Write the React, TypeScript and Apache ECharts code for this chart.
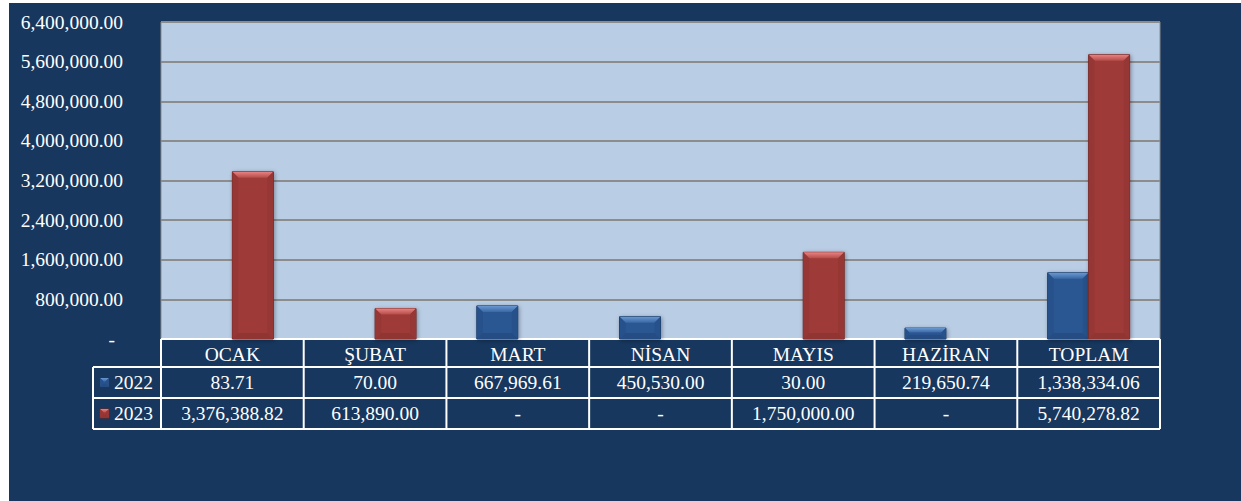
import React, { useEffect, useRef } from "react";
import * as echarts from "echarts";

const months = ["OCAK", "ŞUBAT", "MART", "NİSAN", "MAYIS", "HAZİRAN", "TOPLAM"];
const years = ["2022", "2023"];
const values2022 = [83.71, 70.0, 667969.61, 450530.0, 30.0, 219650.74, 1338334.06];
const values2023 = [3376388.82, 613890.0, 0, 0, 1750000.0, 0, 5740278.82];
const yMin = 0;
const yMax = 6400000;
const yInterval = 800000;

const FONT = "'Liberation Serif', 'Times New Roman', serif";
const FS = 19.5;
const NAVY = "#17375E";

const PALETTES = [
  { base: "#2A5792", top1: "#6A97CF", top2: "#3A69A6", side: "#27518A", bottom: "#254D83", border: "#1A3A63" },
  { base: "#9E3B39", top1: "#EA8281", top2: "#B44C4A", side: "#963735", bottom: "#913533", border: "#6B2624" },
];

const fmt = (v: number) =>
  v === 0 ? "-" : v.toLocaleString("en-US", { minimumFractionDigits: 2, maximumFractionDigits: 2 });

function bevelShapes(x: number, y: number, w: number, h: number, p: any, withShadow: boolean) {
  const b = Math.max(1, Math.min(6, h / 2.5, w / 2.5));
  return [
    {
      type: "rect",
      shape: { x, y, width: w, height: h },
      style: withShadow
        ? { fill: p.base, stroke: p.border, lineWidth: 1, shadowBlur: 4, shadowColor: "rgba(0,0,0,0.35)", shadowOffsetX: 1, shadowOffsetY: 1 }
        : { fill: p.base, stroke: p.border, lineWidth: 1 },
    },
    {
      type: "polygon",
      shape: { points: [[x, y], [x + w, y], [x + w - b, y + b], [x + b, y + b]] },
      style: { fill: new echarts.graphic.LinearGradient(0, 0, 0, 1, [{ offset: 0, color: p.top1 }, { offset: 1, color: p.top2 }]) },
    },
    {
      type: "polygon",
      shape: { points: [[x, y], [x + b, y + b], [x + b, y + h - b], [x, y + h]] },
      style: { fill: p.side },
    },
    {
      type: "polygon",
      shape: { points: [[x + w, y], [x + w, y + h], [x + w - b, y + h - b], [x + w - b, y + b]] },
      style: { fill: p.side },
    },
    {
      type: "polygon",
      shape: { points: [[x, y + h], [x + b, y + h - b], [x + w - b, y + h - b], [x + w, y + h]] },
      style: { fill: p.bottom },
    },
  ];
}

function makeRender(side: number) {
  return (params: any, api: any) => {
    const i = api.value(0);
    const v = api.value(1);
    const base = api.coord([i, 0]);
    const top = api.coord([i, v]);
    const band = api.size([1, 0])[0];
    const w = band * 0.287;
    const x = side === 0 ? base[0] - w : base[0];
    const h = base[1] - top[1];
    if (h < 1) return null;
    return { type: "group", children: bevelShapes(x, top[1], w, h, PALETTES[side], true) };
  };
}

export default function App() {
  const ref = useRef<HTMLDivElement>(null);
  useEffect(() => {
    const chart = echarts.init(ref.current!, null, { renderer: "svg" });
    const series = [values2022, values2023].map((vals, s) => ({
      type: "custom",
      name: years[s],
      renderItem: makeRender(s),
      encode: { x: 0, y: 1 },
      data: vals.map((v, i) => [i, v]),
      z: 3,
    }));
    chart.setOption({
      animation: false,
      backgroundColor: NAVY,
      grid: {
        left: 152,
        right: 81,
        top: 19,
        bottom: 162,
        show: true,
        backgroundColor: "#B9CDE5",
        borderColor: "#8C8C8C",
        borderWidth: 1,
      },
      xAxis: {
        type: "category",
        data: months,
        axisLine: { show: false },
        axisTick: { show: false },
        axisLabel: { show: false },
        splitLine: { show: false },
      },
      yAxis: {
        type: "value",
        min: yMin,
        max: yMax,
        interval: yInterval,
        axisLine: { show: false },
        axisTick: { show: false },
        splitLine: { show: true, lineStyle: { color: "#8C8C8C", width: 2 } },
        axisLabel: {
          color: "#FFFFFF",
          fontFamily: FONT,
          fontSize: FS,
          margin: 38,
          formatter: (v: number) => (v === 0 ? "{z|-}" : fmt(v)),
          rich: { z: { color: "#FFFFFF", fontFamily: FONT, fontSize: FS, padding: [0, 8, 0, 0] } },
        },
      },
      series,
    });

    const c0 = chart.convertToPixel({ xAxisIndex: 0 }, 0) as number;
    const c1 = chart.convertToPixel({ xAxisIndex: 0 }, 1) as number;
    const band = c1 - c0;
    const y0 = chart.convertToPixel({ yAxisIndex: 0 }, 0) as number;
    const left = c0 - band / 2;
    const right = left + band * months.length;
    const rows = [y0, y0 + 28, y0 + 59, y0 + 90];
    const legLeft = left - 68;
    const white = { stroke: "#FFFFFF", lineWidth: 2 };
    const g: any[] = [];
    g.push({ type: "line", shape: { x1: left, y1: rows[0], x2: right, y2: rows[0] }, style: white });
    for (let r = 1; r < 4; r++) {
      g.push({ type: "line", shape: { x1: legLeft, y1: rows[r], x2: right, y2: rows[r] }, style: white });
    }
    for (let i = 0; i <= months.length; i++) {
      const x = left + band * i;
      g.push({ type: "line", shape: { x1: x, y1: rows[0], x2: x, y2: rows[3] }, style: white });
    }
    g.push({ type: "line", shape: { x1: legLeft, y1: rows[1], x2: legLeft, y2: rows[3] }, style: white });
    const txt = (text: string, x: number, y: number, align = "center") => ({
      type: "text",
      x,
      y,
      style: { text, fill: "#FFFFFF", font: `${FS}px ${FONT}`, align, verticalAlign: "middle" },
    });
    months.forEach((m, i) => {
      const cx = left + band * (i + 0.5);
      g.push(txt(m, cx, (rows[0] + rows[1]) / 2 + 1));
      g.push(txt(fmt(values2022[i]), cx, (rows[1] + rows[2]) / 2));
      g.push(txt(fmt(values2023[i]), cx, (rows[2] + rows[3]) / 2));
    });
    years.forEach((yr, s) => {
      const cy = (rows[s + 1] + rows[s + 2]) / 2;
      g.push({ type: "group", children: bevelShapes(legLeft + 7, cy - 4.5, 9, 9, PALETTES[s], false) });
      g.push(txt(yr, legLeft + 21, cy, "left"));
    });
    chart.setOption({ graphic: g });
    return () => chart.dispose();
  }, []);
  return (
    <div
      ref={ref}
      style={{ position: "absolute", left: 9, top: 3, width: 1232, height: 498 }}
    />
  );
}
